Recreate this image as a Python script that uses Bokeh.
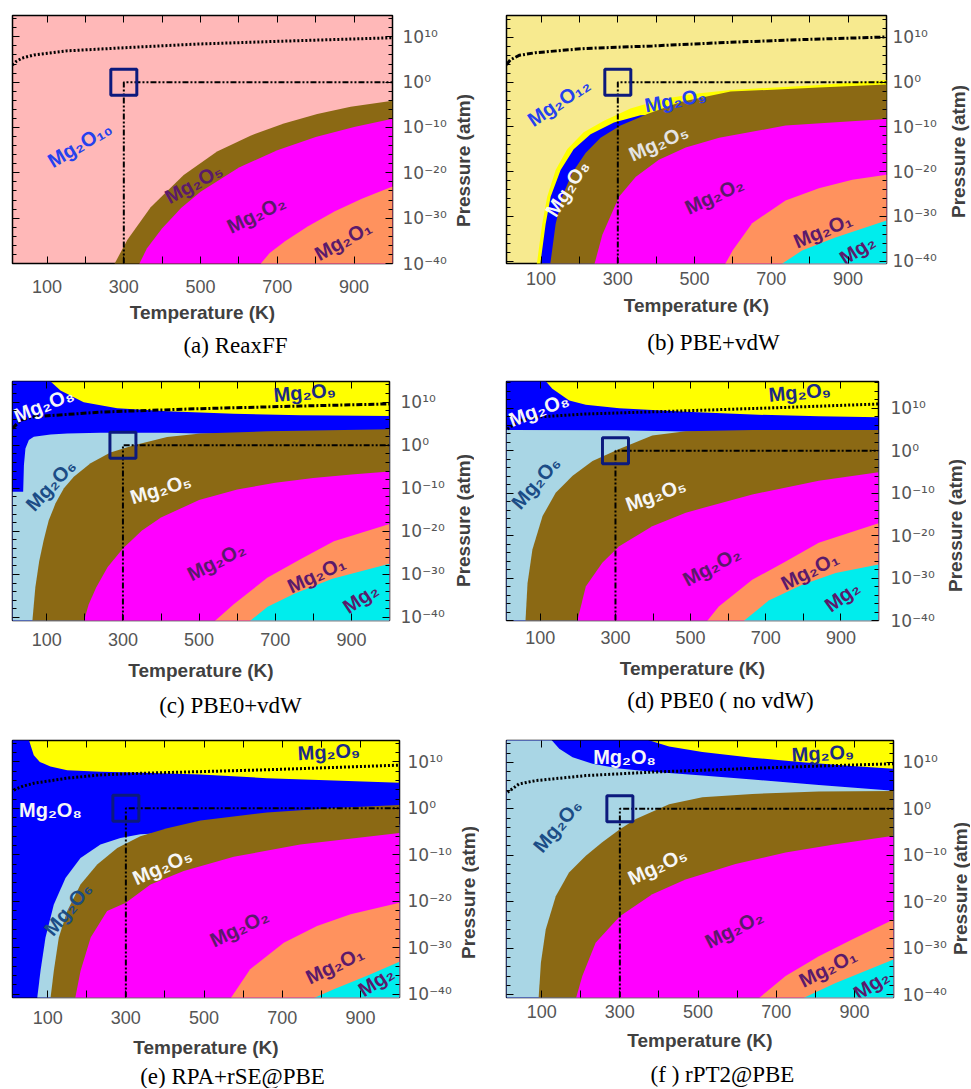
import math
from bokeh.plotting import figure
from bokeh.layouts import column, row
from bokeh.models import Range1d, FixedTicker, LinearAxis
from bokeh.core.properties import value
from bokeh.embed import file_html
from bokeh.resources import INLINE

# ---------------- shared axis data ----------------
T_RANGE = (10, 1000)
X_LABELED = [100, 300, 500, 700, 900]
X_UNLABELED = [200, 400, 600, 800]
X_ALL = [100, 200, 300, 400, 500, 600, 700, 800, 900]
Y_TICKS = [-40, -30, -20, -10, 0, 10]
Y_LABELS = ["10⁻⁴⁰", "10⁻³⁰", "10⁻²⁰", "10⁻¹⁰", "10⁰", "10¹⁰"]
Y_MINOR = [v for v in range(-40, 17, 2) if v % 10 != 0]
REF_T = 300      # K
REF_P = 0        # log10 p (atm)
X_TITLE = "Temperature (K)"
Y_TITLE = "Pressure (atm)"

# ---------------- colours ----------------
PINK = "#ffb8b8"; PALE = "#f7ea8f"; YELLOW = "#ffff00"; BLUE = "#0000ff"
LBLUE = "#a9d6e5"; BROWN = "#8b6914"; MAGENTA = "#ff00ff"; ORANGE = "#ff925e"
CYAN = "#00eded"; NAVY = "#0c1a7d"
L_BLUE = "#2541ee"; L_PURP = "#5b1a6b"; L_NAVY = "#1b2a87"; L_DBLUE = "#1b4c86"
L_WHITE = "#f6f6f6"; L_LIGHT = "#e4e4e4"

# ---------------- (a) ReaxFF ----------------
a_yr = (-40.0, 14.7)
a_b1_T = [270, 309, 370, 456, 543, 630, 717, 804, 891, 1000]
a_b1_P = [-41, -34.8, -27.6, -20.5, -15.3, -11.8, -9.1, -7.0, -5.4, -4.1]
a_b2_T = [335, 360, 400, 450, 500, 600, 700, 800, 900, 1000]
a_b2_P = [-41, -36.7, -32.2, -27.7, -24.2, -18.8, -15.0, -12.1, -9.9, -8.1]
a_b3_T = [647, 680, 720, 780, 850, 920, 1000]
a_b3_P = [-41, -37.7, -35.1, -31.8, -28.5, -25.7, -23.0]
a_c_T = [10, 20, 35, 66, 152, 325, 491, 700, 1000]
a_c_P = [3.8, 4.6, 5.3, 6.0, 6.9, 7.7, 8.4, 9.0, 9.8]
a_lab = ["Mg₂O₁₀", "Mg₂O₅", "Mg₂O₂", "Mg₂O₁"]
a_lab_T = [185, 482, 645, 871]
a_lab_P = [-13.7, -22.3, -29.1, -34.9]
a_lab_ang = [31, 29, 26, 29]
a_lab_col = [L_BLUE, L_PURP, L_PURP, L_PURP]

# ---------------- (b) PBE+vdW ----------------
b_yr = (-40.5, 14.9)
b_b1_T = [88, 90, 103, 116, 138, 168, 211, 264, 333, 420, 507, 594, 824, 1000]
b_b1_P = [-41, -40, -31.7, -25.6, -19.6, -15.0, -11.2, -8.6, -5.9, -3.7, -2.5, -1.75, -0.6, 0.5]
b_b2_T = [97, 99, 112, 125, 151, 185, 229, 290, 359, 450, 1000]
b_b2_P = [-41, -40, -31.7, -25.6, -19.6, -15.0, -11.6, -9.0, -7.4, -7.0, -4.0]
b_b3_T = [123, 125, 138, 155, 181, 216, 255, 307, 359, 377, 463, 594, 824, 1000]
b_b3_P = [-41, -40, -31.7, -25.6, -20.3, -15.8, -12.4, -9.7, -7.8, -7.1, -4.4, -2.1, -1.2, -0.5]
b_b4_T = [238, 260, 303, 347, 407, 477, 564, 737, 1000]
b_b4_P = [-41, -34, -25.6, -21.1, -17.3, -14.6, -12.4, -9.7, -8.2]
b_b5_T = [577, 600, 650, 737, 824, 911, 1000]
b_b5_P = [-41, -37.5, -31.5, -26.4, -23.7, -21.8, -20.7]
b_b6_T = [720, 780, 867, 1000]
b_b6_P = [-41, -37.6, -34.7, -30.9]
b_c_T = [10, 20, 43, 86, 217, 390, 564, 737, 1000]
b_c_P = [3.9, 5.0, 6.0, 6.6, 7.55, 8.1, 8.8, 9.4, 10.1]
b_lab = ["Mg₂O₁₂", "Mg₂O₉", "Mg₂O₈", "Mg₂O₅", "Mg₂O₂", "Mg₂O₁", "Mg₂"]
b_lab_T = [146, 450, 168, 406, 551, 834, 924]
b_lab_P = [-4.4, -4.0, -23.7, -13.5, -25.3, -33.1, -37.4]
b_lab_ang = [34, 10, 57, 24, 25, 23, 33]
b_lab_col = [L_BLUE, L_BLUE, L_WHITE, L_LIGHT, L_PURP, L_PURP, L_PURP]

# ---------------- (c) PBE0+vdW ----------------
c_yr = (-40.7, 14.8)
c_b1_T = [10, 100, 110, 136, 197, 285, 416, 591, 766, 1000]
c_b1_P = [18, 17, 14.8, 12.7, 10.0, 8.6, 7.9, 7.3, 6.95, 6.8]
c_b2_T = [10, 38, 40, 44, 53, 66, 110, 154, 241, 416, 500, 600, 1000]
c_b2_P = [-10.8, -10.8, -4.6, -0.75, 1.2, 1.95, 2.5, 2.7, 2.9, 2.9, 2.75, 2.6, 2.4]
c_b3_T = [62, 70, 80, 92, 105, 123, 145, 171, 215, 267, 329, 416, 504, 679, 1000]
c_b3_P = [-41, -33, -27, -22, -17.5, -13.5, -10, -7.3, -4.2, -1.7, 0.0, 1.9, 2.7, 3.25, 3.7]
c_b4_T = [197, 210, 230, 260, 300, 350, 400, 500, 600, 700, 800, 900, 1000]
c_b4_P = [-41, -37, -33, -28.3, -24, -19.8, -16.8, -12.7, -10.3, -8.7, -7.6, -6.8, -6.1]
c_b5_T = [539, 591, 679, 766, 854, 1000]
c_b5_P = [-41, -36.9, -30.8, -26.5, -22.3, -18.3]
c_b6_T = [631, 680, 750, 850, 1000]
c_b6_P = [-41, -37.5, -34.5, -31, -27.5]
c_c_T = [10, 31, 66, 241, 504, 766, 1000]
c_c_P = [3.9, 5.8, 6.6, 7.7, 8.5, 9.1, 9.6]
c_lab = ["Mg₂O₈", "Mg₂O₉", "Mg₂O₆", "Mg₂O₅", "Mg₂O₂", "Mg₂O₁", "Mg₂"]
c_lab_T = [92, 777, 110, 399, 545, 808, 924]
c_lab_P = [9.4, 12.3, -9.2, -10.1, -26.9, -30.0, -35.5]
c_lab_ang = [22, 5, 47, 17, 27, 25, 34]
c_lab_col = [L_WHITE, L_NAVY, L_DBLUE, L_WHITE, L_PURP, L_PURP, L_PURP]

# ---------------- (d) PBE0 (no vdW) ----------------
d_yr = (-40.0, 16.3)
d_b1_T = [10, 100, 115, 132, 177, 221, 310, 487, 664, 841, 1000]
d_b1_P = [19, 18, 16.3, 14.6, 11.8, 10.8, 10.0, 9.2, 8.5, 8.1, 7.85]
d_b2_T = [10, 300, 450, 600, 1000]
d_b2_P = [4.9, 4.8, 4.6, 4.3, 4.0]
d_b3_T = [60, 66, 79, 106, 141, 186, 239, 310, 398, 487, 664, 1000]
d_b3_P = [-41, -31.2, -23.3, -15.4, -9.9, -5.9, -2.4, 0.4, 3.6, 4.6, 4.85, 4.9]
d_b4_T = [196, 221, 265, 310, 398, 487, 664, 841, 1000]
d_b4_P = [-41, -32, -26.4, -22.5, -17.8, -14.6, -10.3, -7.1, -5.1]
d_b5_T = [536, 575, 664, 753, 841, 1000]
d_b5_P = [-41, -36.7, -30.4, -26.1, -21.7, -17.1]
d_b6_T = [629, 708, 797, 886, 1000]
d_b6_P = [-41, -35.3, -31.6, -28.8, -26.8]
d_c_T = [12.7, 44, 88, 221, 487, 753, 1000]
d_c_P = [5.1, 7.1, 7.9, 8.65, 9.4, 10.2, 11.0]
d_lab = ["Mg₂O₈", "Mg₂O₉", "Mg₂O₆", "Mg₂O₅", "Mg₂O₂", "Mg₂O₁", "Mg₂"]
d_lab_T = [96, 790, 88, 407, 556, 817, 903]
d_lab_P = [9.7, 13.8, -7.5, -10.3, -27.2, -28.2, -34.3]
d_lab_ang = [21, 5, 49, 20, 28, 27, 36]
d_lab_col = [L_WHITE, L_NAVY, L_DBLUE, L_WHITE, L_PURP, L_PURP, L_PURP]

# ---------------- (e) RPA+rSE@PBE ----------------
e_yr = (-40.7, 14.6)
e_b1_T = [10, 45, 52, 64.5, 80, 107, 150, 235, 320, 491, 661, 832, 1000]
e_b1_P = [17, 16, 14.7, 11.45, 10.0, 9.0, 8.2, 7.9, 7.7, 7.3, 6.5, 6.0, 5.5]
e_b2_T = [73, 81.6, 94.4, 115.7, 145.6, 184, 235, 286, 337, 600, 1000]
e_b2_P = [-41, -35.0, -27.8, -20.7, -15.0, -10.7, -7.8, -6.4, -5.55, -4.5, -3.5]
e_b3_T = [107, 115.7, 128.5, 150, 184, 226.7, 278, 337, 405.7, 491, 661, 832, 1000]
e_b3_P = [-41, -35.0, -27.8, -22.1, -16.4, -12.1, -8.55, -6.0, -4.3, -2.6, -0.9, 0.1, 0.74]
e_b4_T = [170, 184, 210, 252, 300, 363, 448, 576, 746, 1000]
e_b4_P = [-41, -35, -27.8, -22.1, -20.3, -16.4, -13.5, -10.4, -7.8, -5.3]
e_b5_T = [567, 618, 704, 789, 875, 1000]
e_b5_P = [-41, -34.6, -28.9, -25.3, -22.8, -20.3]
e_b6_T = [776, 832, 917, 1000]
e_b6_P = [-41, -38.9, -36.0, -33.0]
e_c_T = [13.3, 38, 64.5, 150, 235, 320, 491, 661, 832, 1000]
e_c_P = [3.95, 4.8, 5.4, 6.5, 7.2, 7.5, 7.9, 8.3, 8.8, 9.3]
e_lab = ["Mg₂O₈", "Mg₂O₉", "Mg₂O₆", "Mg₂O₅", "Mg₂O₂", "Mg₂O₁", "Mg₂"]
e_lab_T = [107, 819, 152, 393, 590, 834, 940]
e_lab_P = [-0.3, 12.2, -21.6, -12.5, -25.7, -33.7, -37.2]
e_lab_ang = [0, 3, 50, 24, 26, 26, 33]
e_lab_col = [L_WHITE, L_NAVY, L_DBLUE, L_WHITE, L_PURP, L_PURP, L_PURP]

# ---------------- (f) rPT2@PBE ----------------
f_yr = (-40.6, 14.7)
f_b1_T = [10, 330, 349, 426, 511, 639, 767, 894, 1000]
f_b1_P = [17, 17, 15.4, 13.4, 12.2, 11.0, 10.0, 9.2, 8.6]
f_b2_T = [10, 105, 119, 145, 179, 230, 298, 383, 511, 639, 809, 1000]
f_b2_P = [17, 17, 15.4, 12.9, 11.1, 9.7, 8.7, 8.0, 7.15, 6.3, 5.1, 3.9]
f_b3_T = [92, 98, 110.5, 136, 170, 213, 255, 300, 341, 426, 511, 639, 809, 1000]
f_b3_P = [-41, -33.1, -25.9, -18.8, -13.7, -10.1, -7.2, -4.4, -2.2, 1.0, 2.5, 3.2, 3.7, 3.85]
f_b4_T = [187, 204, 238, 300, 383, 468, 596, 724, 852, 1000]
f_b4_P = [-41, -36.0, -28.8, -23.1, -18.4, -15.2, -11.9, -9.4, -7.6, -5.8]
f_b5_T = [652, 724, 809, 894, 1000]
f_b5_P = [-41, -36.0, -31.7, -28.1, -23.8]
f_b6_T = [762, 852, 937, 1000]
f_b6_P = [-41, -37.5, -34.6, -32.4]
f_c_T = [12.6, 42, 85, 213, 383, 639, 809, 1000]
f_c_P = [3.55, 5.35, 6.07, 7.15, 7.9, 8.7, 9.2, 9.7]
f_lab = ["Mg₂O₈", "Mg₂O₉", "Mg₂O₆", "Mg₂O₅", "Mg₂O₂", "Mg₂O₁", "Mg₂"]
f_lab_T = [312, 819, 140, 396, 592, 832, 943]
f_lab_P = [11.1, 12.0, -3.6, -12.3, -25.8, -34.2, -37.8]
f_lab_ang = [0, 3, 50, 25, 27, 27, 33]
f_lab_col = [L_WHITE, L_NAVY, L_DBLUE, L_WHITE, L_PURP, L_PURP, L_PURP]

CAPTIONS = ["(a) ReaxFF", "(b) PBE+vdW", "(c) PBE0+vdW", "(d) PBE0 ( no vdW)",
            "(e) RPA+rSE@PBE", "(f ) rPT2@PBE"]

DOTTED = "2 2"
DASHDOT = "6 2 2 2"
REFDASH = "6 2 2 2 2 2"

# row geometry: figure height, top / bottom border, caption strip height
ROWS = [dict(h=328, mt=15, mb=65, cap_h=36),
        dict(h=320, mt=17, mb=64, cap_h=38),
        dict(h=340, mt=18, mb=65, cap_h=26)]

PANELS = [
    dict(yr=a_yr, bg=PINK,
         bounds=[(a_b1_T, a_b1_P, BROWN), (a_b2_T, a_b2_P, MAGENTA), (a_b3_T, a_b3_P, ORANGE)],
         curve=(a_c_T, a_c_P), dash=DOTTED,
         labels=(a_lab, a_lab_T, a_lab_P, a_lab_ang, a_lab_col),
         geom=dict(w=450, ml=12, mr=58, x1=16, x2=6, y1=10),
         side=dict(w=26, x=13, y=145), cap=(235, 17)),
    dict(yr=b_yr, bg=PALE,
         bounds=[(b_b1_T, b_b1_P, YELLOW), (b_b2_T, b_b2_P, BLUE), (b_b3_T, b_b3_P, BROWN),
                 (b_b4_T, b_b4_P, MAGENTA), (b_b5_T, b_b5_P, ORANGE), (b_b6_T, b_b6_P, CYAN)],
         curve=(b_c_T, b_c_P), dash=DASHDOT,
         labels=(b_lab, b_lab_T, b_lab_P, b_lab_ang, b_lab_col),
         geom=dict(w=472, ml=30, mr=62, x1=8, x2=7, y1=6),
         side=dict(w=22, x=10, y=136), cap=(713, 14)),
    dict(yr=c_yr, bg=YELLOW,
         bounds=[(c_b1_T, c_b1_P, BLUE), (c_b2_T, c_b2_P, LBLUE), (c_b3_T, c_b3_P, BROWN),
                 (c_b4_T, c_b4_P, MAGENTA), (c_b5_T, c_b5_P, ORANGE), (c_b6_T, c_b6_P, CYAN)],
         curve=(c_c_T, c_c_P), dash=DASHDOT,
         labels=(c_lab, c_lab_T, c_lab_P, c_lab_ang, c_lab_col),
         geom=dict(w=452, ml=12, mr=63, x1=12, x2=11, y1=11),
         side=dict(w=22, x=11, y=139), cap=(230, 21)),
    dict(yr=d_yr, bg=YELLOW,
         bounds=[(d_b1_T, d_b1_P, BLUE), (d_b2_T, d_b2_P, LBLUE), (d_b3_T, d_b3_P, BROWN),
                 (d_b4_T, d_b4_P, MAGENTA), (d_b5_T, d_b5_P, ORANGE), (d_b6_T, d_b6_P, CYAN)],
         curve=(d_c_T, d_c_P), dash=DOTTED,
         labels=(d_lab, d_lab_T, d_lab_P, d_lab_ang, d_lab_col),
         geom=dict(w=470, ml=32, mr=66, x1=10, x2=11, y1=12),
         side=dict(w=22, x=11, y=144), cap=(720, 16)),
    dict(yr=e_yr, bg=YELLOW,
         bounds=[(e_b1_T, e_b1_P, BLUE), (e_b2_T, e_b2_P, LBLUE), (e_b3_T, e_b3_P, BROWN),
                 (e_b4_T, e_b4_P, MAGENTA), (e_b5_T, e_b5_P, ORANGE), (e_b6_T, e_b6_P, CYAN)],
         curve=(e_c_T, e_c_P), dash=DOTTED,
         labels=(e_lab, e_lab_T, e_lab_P, e_lab_ang, e_lab_col),
         geom=dict(w=457, ml=12, mr=58, x1=13, x2=10, y1=8),
         side=dict(w=22, x=11, y=152), cap=(232, 14)),
    dict(yr=f_yr, bg=YELLOW,
         bounds=[(f_b1_T, f_b1_P, BLUE), (f_b2_T, f_b2_P, LBLUE), (f_b3_T, f_b3_P, BROWN),
                 (f_b4_T, f_b4_P, MAGENTA), (f_b5_T, f_b5_P, ORANGE), (f_b6_T, f_b6_P, CYAN)],
         curve=(f_c_T, f_c_P), dash=DOTTED,
         labels=(f_lab, f_lab_T, f_lab_P, f_lab_ang, f_lab_col),
         geom=dict(w=470, ml=27, mr=56, x1=7, x2=9, y1=9),
         side=dict(w=21, x=11, y=148), cap=(722, 12)),
]

SANS = "Liberation Sans"
SERIF = "Liberation Serif"


def ticks_only(ax, length):
    ax.major_tick_in = length
    ax.major_tick_out = 0
    ax.minor_tick_in = length
    ax.minor_tick_out = 0
    ax.major_tick_line_color = "black"
    ax.minor_tick_line_color = "black"
    ax.axis_line_color = None
    ax.major_label_standoff = 0


def make_panel(cfg, rg):
    g = cfg["geom"]
    ylo, yhi = cfg["yr"]
    tlo, thi = T_RANGE
    p = figure(width=g["w"], height=rg["h"], x_range=Range1d(tlo, thi), y_range=Range1d(ylo, yhi),
               output_backend="svg", toolbar_location=None, y_axis_location="right",
               min_border_left=g["ml"], min_border_right=g["mr"],
               min_border_top=rg["mt"], min_border_bottom=rg["mb"])
    p.background_fill_color = cfg["bg"]
    p.border_fill_color = "white"
    p.outline_line_color = "black"
    p.outline_line_width = 1.5
    p.outline_line_alpha = 1.0
    p.grid.visible = False

    for T, P, col in cfg["bounds"]:
        p.varea(x=T, y1=[ylo - 5] * len(T), y2=P, fill_color=col)

    cT, cP = cfg["curve"]
    p.line(cT, cP, line_color="black", line_width=3, line_dash=cfg["dash"])

    p.line([REF_T, REF_T, thi], [ylo, REF_P, REF_P], line_color="black",
           line_width=2, line_dash=REFDASH)
    p.scatter([REF_T], [REF_P], marker="square", size=26, fill_alpha=0,
              line_color=NAVY, line_width=3)

    txt, lT, lP, lA, lC = cfg["labels"]
    p.text(x=lT, y=lP, text=txt, angle=[math.radians(a) for a in lA], text_color=lC,
           text_font=value(SANS), text_font_style="bold", text_font_size="20px",
           text_align="center", text_baseline="middle")

    xa = p.xaxis[0]
    xa.ticker = FixedTicker(ticks=X_LABELED, minor_ticks=X_UNLABELED)
    xa.major_tick_in = 7
    xa.major_tick_out = 0
    xa.minor_tick_in = 7
    xa.minor_tick_out = 0
    xa.axis_line_color = None
    xa.major_label_text_font = SANS
    xa.major_label_text_font_size = "18px"
    xa.major_label_text_color = "#555555"
    xa.major_label_standoff = g["x1"]
    xa.axis_label = X_TITLE
    xa.axis_label_text_font = SANS
    xa.axis_label_text_font_style = "bold"
    xa.axis_label_text_font_size = "19px"
    xa.axis_label_text_color = "#404040"
    xa.axis_label_standoff = g["x2"]

    ya = p.yaxis[0]
    ya.ticker = FixedTicker(ticks=Y_TICKS, minor_ticks=Y_MINOR)
    ya.major_label_overrides = dict(zip(Y_TICKS, Y_LABELS))
    ya.major_tick_in = 7
    ya.major_tick_out = 0
    ya.minor_tick_in = 4
    ya.minor_tick_out = 0
    ya.axis_line_color = None
    ya.major_label_text_font = "DejaVu Sans"
    ya.major_label_text_font_size = "17px"
    ya.major_label_text_color = "#555555"
    ya.major_label_standoff = g["y1"]

    yl1 = LinearAxis(ticker=FixedTicker(ticks=[], minor_ticks=Y_TICKS))
    ticks_only(yl1, 7)
    p.add_layout(yl1, "left")
    yl2 = LinearAxis(ticker=FixedTicker(ticks=[], minor_ticks=Y_MINOR))
    ticks_only(yl2, 4)
    p.add_layout(yl2, "left")
    xt = LinearAxis(ticker=FixedTicker(ticks=[], minor_ticks=X_ALL))
    ticks_only(xt, 7)
    p.add_layout(xt, "above")
    return p


def bare_figure(w, h, xr, yr, mt=0, mb=0):
    q = figure(width=w, height=h, x_range=xr, y_range=yr, output_backend="svg",
               toolbar_location=None, x_axis_location=None, y_axis_location=None,
               min_border_left=0, min_border_right=0, min_border_top=mt, min_border_bottom=mb)
    q.outline_line_color = None
    q.background_fill_color = "white"
    q.border_fill_color = "white"
    q.grid.visible = False
    return q


def side_title(cfg, rg):
    s = cfg["side"]
    fh = rg["h"] - rg["mt"] - rg["mb"]
    q = bare_figure(s["w"], rg["h"], Range1d(0, s["w"]), Range1d(fh, 0), rg["mt"], rg["mb"])
    q.text(x=[s["x"]], y=[s["y"]], text=[Y_TITLE], angle=math.pi / 2,
           text_font=value(SANS), text_font_style="bold", text_font_size="19px",
           text_color="#404040", text_align="center", text_baseline="middle")
    return q


def caption_strip(cfgs, caps, rg):
    h = rg["cap_h"]
    q = bare_figure(970, h, Range1d(0, 970), Range1d(h, 0))
    q.text(x=[c["cap"][0] for c in cfgs], y=[c["cap"][1] for c in cfgs], text=caps,
           text_font=value(SERIF), text_font_size="23px", text_color="black",
           text_align="center", text_baseline="middle")
    return q


children = []
for r in range(3):
    rg = ROWS[r]
    left, right = PANELS[2 * r], PANELS[2 * r + 1]
    children.append(row(make_panel(left, rg), side_title(left, rg),
                        make_panel(right, rg), side_title(right, rg)))
    children.append(caption_strip([left, right], CAPTIONS[2 * r:2 * r + 2], rg))

layout = column(*children)

with open("out.html", "w") as fh:
    fh.write(file_html(layout, INLINE))
